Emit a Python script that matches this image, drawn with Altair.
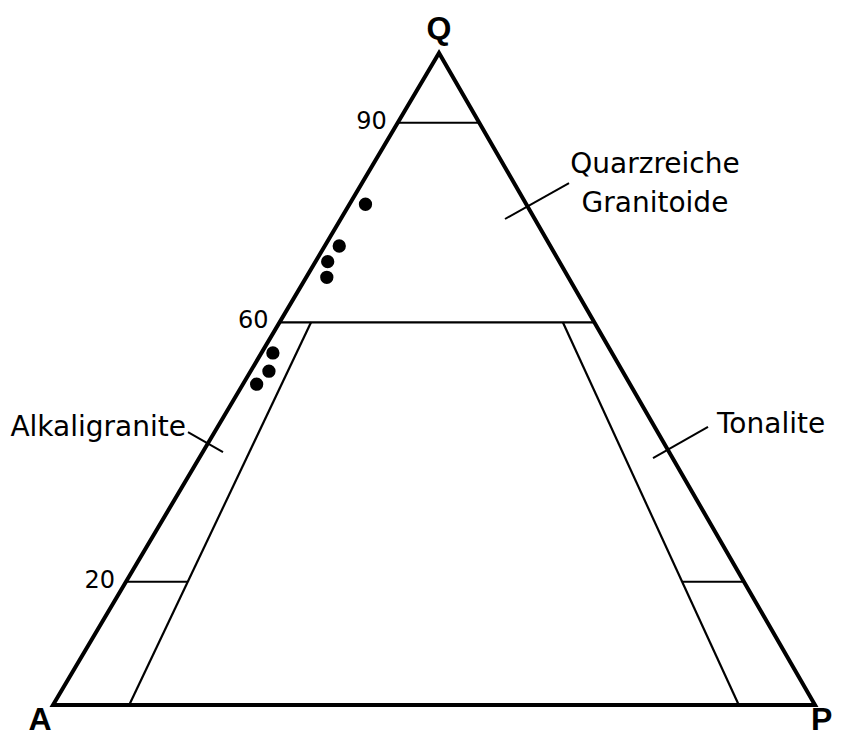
import altair as alt
import pandas as pd

# ---- values ----
# QAP samples (modal %), Q = quartz, A = alkali feldspar, P = plagioclase
sample_Q = [76.8, 70.4, 68.0, 65.6, 54.0, 51.2, 49.2]
sample_A = [21.1, 27.7, 30.4, 31.7, 44.5, 46.4, 49.0]
sample_P = [2.1, 1.9, 1.6, 2.7, 1.5, 2.4, 1.8]

# field boundaries as drawn: Q levels (%) and their tick labels
q_levels = [89.3, 58.7, 18.9]
q_level_labels = ["90", "60", "20"]
# boundaries of constant 100*P/(A+P)
ratio_bounds = [10, 90]

vertex_names = ["A", "P", "Q"]
field_lines = ["Quarzreiche", "Granitoide"]
field_left = "Alkaligranite"
field_right = "Tonalite"

# ---- layout constants ----
SKEW = 0.5066          # horizontal position of the Q apex (fraction of base)
W, H = 762, 652

xs = alt.Scale(domain=[0, 1], nice=False, zero=False)
ys = alt.Scale(domain=[0, 1], nice=False, zero=False)

def tx(q, r):
    return f"({r}/100)*(1-{q}/100) + {SKEW}*{q}/100"

def ty(q):
    return f"{q}/100"

# outline A -> P -> Q -> A -> P (extra segment so every corner is joined)
outline = pd.DataFrame({
    "q": [0, 0, 100, 0, 0],
    "r": [0, 100, 0, 0, 100],
    "o": [0, 1, 2, 3, 4],
})

seg_rows = []
for q in q_levels[:2]:
    seg_rows.append((q, 0, q, 100))
for r in ratio_bounds:
    seg_rows.append((0, r, q_levels[1], r))
seg_rows.append((q_levels[2], 0, q_levels[2], ratio_bounds[0]))
seg_rows.append((q_levels[2], ratio_bounds[1], q_levels[2], 100))
segments = pd.DataFrame(seg_rows, columns=["q1", "r1", "q2", "r2"])

samples = pd.DataFrame({"Q": sample_Q, "A": sample_A, "P": sample_P})

ticks = pd.DataFrame({"q": q_levels, "r": [0] * len(q_levels), "label": q_level_labels})

X = lambda f: alt.X(f, type="quantitative", scale=xs, axis=None)
Y = lambda f: alt.Y(f, type="quantitative", scale=ys, axis=None)

outline_layer = alt.Chart(outline).transform_calculate(
    x=tx("datum.q", "datum.r"), y=ty("datum.q")
).mark_line(color="black", strokeWidth=4, strokeJoin="miter").encode(
    x=X("x"), y=Y("y"), order=alt.Order("o:Q")
)

seg_layer = alt.Chart(segments).transform_calculate(
    x=tx("datum.q1", "datum.r1"), y=ty("datum.q1"),
    x2=tx("datum.q2", "datum.r2"), y2=ty("datum.q2"),
).mark_rule(color="black", strokeWidth=2.2).encode(
    x=X("x"), y=Y("y"), x2="x2:Q", y2="y2:Q"
)

point_layer = alt.Chart(samples).transform_calculate(
    r="100*datum.P/(datum.A+datum.P)"
).transform_calculate(
    x=tx("datum.Q", "datum.r"), y=ty("datum.Q")
).mark_circle(color="black", size=177, opacity=1).encode(x=X("x"), y=Y("y"))

tick_layer = alt.Chart(ticks).transform_calculate(
    x=tx("datum.q", "datum.r"), y=ty("datum.q")
).mark_text(font="DejaVu Sans", fontSize=24, align="right", baseline="alphabetic",
            dx=-11, dy=6, color="black").encode(x=X("x"), y=Y("y"), text="label:N")

vert = pd.DataFrame({"name": vertex_names, "q": [0, 0, 100], "r": [0, 100, 0]})

def vertex_label(name, size, **kw):
    return alt.Chart(vert).transform_filter(
        alt.datum.name == name
    ).transform_calculate(
        x=tx("datum.q", "datum.r"), y=ty("datum.q")
    ).mark_text(font="Liberation Sans", fontWeight="bold", fontSize=size,
                baseline="alphabetic", color="black", **kw).encode(
        x=X("x"), y=Y("y"), text="name:N")

vA = vertex_label("A", 32, align="center", dx=-13, dy=25)
vP = vertex_label("P", 32, align="left", dx=-4, dy=25)
vQ = vertex_label("Q", 32, align="center", dx=0, dy=-14)

# annotation anchors (plot fractions)
lab_q = pd.DataFrame({"t": field_lines, "x": [0.790, 0.790], "y": [0.816, 0.756]})
lab_l = pd.DataFrame({"t": [field_left], "x": [0.1745], "y": [0.4126]})
lab_r = pd.DataFrame({"t": [field_right], "x": [0.8714], "y": [0.4172]})

txt = dict(font="DejaVu Sans", fontSize=28, baseline="alphabetic", color="black")
lq = alt.Chart(lab_q).mark_text(align="center", **txt).encode(x=X("x"), y=Y("y"), text="t:N")
ll = alt.Chart(lab_l).mark_text(align="right", **txt).encode(x=X("x"), y=Y("y"), text="t:N")
lr = alt.Chart(lab_r).mark_text(align="left", **txt).encode(x=X("x"), y=Y("y"), text="t:N")

leaders = pd.DataFrame({
    "x": [0.5932, 0.1772, 0.7874],
    "y": [0.7454, 0.4187, 0.3788],
    "x2": [0.6772, 0.2231, 0.8596],
    "y2": [0.8006, 0.3880, 0.4264],
})
leader_layer = alt.Chart(leaders).mark_rule(color="black", strokeWidth=2).encode(
    x=X("x"), y=Y("y"), x2="x2:Q", y2="y2:Q"
)

chart = alt.layer(
    seg_layer, outline_layer, leader_layer, point_layer, tick_layer,
    vA, vP, vQ, lq, ll, lr
).properties(
    width=W, height=H,
    autosize=alt.AutoSizeParams(type="none"),
    padding={"left": 45, "top": 45, "right": 19, "bottom": 32},
    background="white",
).configure_view(stroke=None)

chart.save("out.html", embed_options={"renderer": "svg", "actions": False})
